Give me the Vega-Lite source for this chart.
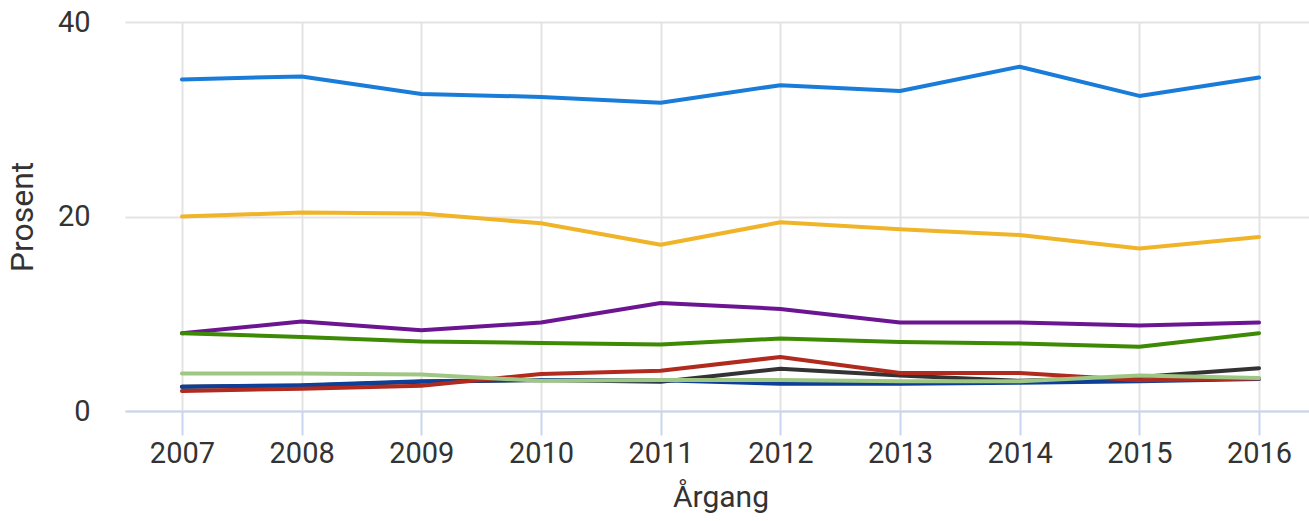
{
  "$schema": "https://vega.github.io/schema/vega-lite/v6.json",
  "autosize": {"type": "none"},
  "padding": {"left": 125, "top": 22, "right": 0, "bottom": 110},
  "width": 1191,
  "height": 389,
  "background": "white",
  "config": {
    "view": {"stroke": null},
    "font": "Roboto",
    "axis": {"labelFont": "Roboto", "titleFont": "Roboto", "labelColor": "#333333", "titleColor": "#333333", "titleFontWeight": "normal"}
  },
  "datasets": {
    "rows": [
      {"serie": "s1", "year": "2007", "value": 34.1},
      {"serie": "s1", "year": "2008", "value": 34.4},
      {"serie": "s1", "year": "2009", "value": 32.6},
      {"serie": "s1", "year": "2010", "value": 32.3},
      {"serie": "s1", "year": "2011", "value": 31.7},
      {"serie": "s1", "year": "2012", "value": 33.5},
      {"serie": "s1", "year": "2013", "value": 32.9},
      {"serie": "s1", "year": "2014", "value": 35.4},
      {"serie": "s1", "year": "2015", "value": 32.4},
      {"serie": "s1", "year": "2016", "value": 34.3},
      {"serie": "s2", "year": "2007", "value": 20.0},
      {"serie": "s2", "year": "2008", "value": 20.4},
      {"serie": "s2", "year": "2009", "value": 20.3},
      {"serie": "s2", "year": "2010", "value": 19.3},
      {"serie": "s2", "year": "2011", "value": 17.1},
      {"serie": "s2", "year": "2012", "value": 19.4},
      {"serie": "s2", "year": "2013", "value": 18.7},
      {"serie": "s2", "year": "2014", "value": 18.1},
      {"serie": "s2", "year": "2015", "value": 16.7},
      {"serie": "s2", "year": "2016", "value": 17.9},
      {"serie": "s3", "year": "2007", "value": 8.0},
      {"serie": "s3", "year": "2008", "value": 9.2},
      {"serie": "s3", "year": "2009", "value": 8.3},
      {"serie": "s3", "year": "2010", "value": 9.1},
      {"serie": "s3", "year": "2011", "value": 11.1},
      {"serie": "s3", "year": "2012", "value": 10.5},
      {"serie": "s3", "year": "2013", "value": 9.1},
      {"serie": "s3", "year": "2014", "value": 9.1},
      {"serie": "s3", "year": "2015", "value": 8.8},
      {"serie": "s3", "year": "2016", "value": 9.1},
      {"serie": "s4", "year": "2007", "value": 8.0},
      {"serie": "s4", "year": "2008", "value": 7.6},
      {"serie": "s4", "year": "2009", "value": 7.15},
      {"serie": "s4", "year": "2010", "value": 7.0},
      {"serie": "s4", "year": "2011", "value": 6.85},
      {"serie": "s4", "year": "2012", "value": 7.45},
      {"serie": "s4", "year": "2013", "value": 7.1},
      {"serie": "s4", "year": "2014", "value": 6.95},
      {"serie": "s4", "year": "2015", "value": 6.6},
      {"serie": "s4", "year": "2016", "value": 8.0},
      {"serie": "s5", "year": "2007", "value": 2.5},
      {"serie": "s5", "year": "2008", "value": 2.6},
      {"serie": "s5", "year": "2009", "value": 3.0},
      {"serie": "s5", "year": "2010", "value": 3.2},
      {"serie": "s5", "year": "2011", "value": 3.0},
      {"serie": "s5", "year": "2012", "value": 4.35},
      {"serie": "s5", "year": "2013", "value": 3.65},
      {"serie": "s5", "year": "2014", "value": 3.1},
      {"serie": "s5", "year": "2015", "value": 3.5},
      {"serie": "s5", "year": "2016", "value": 4.4},
      {"serie": "s6", "year": "2007", "value": 2.5},
      {"serie": "s6", "year": "2008", "value": 2.65},
      {"serie": "s6", "year": "2009", "value": 3.05},
      {"serie": "s6", "year": "2010", "value": 3.2},
      {"serie": "s6", "year": "2011", "value": 3.15},
      {"serie": "s6", "year": "2012", "value": 2.8},
      {"serie": "s6", "year": "2013", "value": 2.8},
      {"serie": "s6", "year": "2014", "value": 2.9},
      {"serie": "s6", "year": "2015", "value": 3.05},
      {"serie": "s6", "year": "2016", "value": 3.3},
      {"serie": "s7", "year": "2007", "value": 2.05},
      {"serie": "s7", "year": "2008", "value": 2.3},
      {"serie": "s7", "year": "2009", "value": 2.6},
      {"serie": "s7", "year": "2010", "value": 3.8},
      {"serie": "s7", "year": "2011", "value": 4.15},
      {"serie": "s7", "year": "2012", "value": 5.55},
      {"serie": "s7", "year": "2013", "value": 3.9},
      {"serie": "s7", "year": "2014", "value": 3.9},
      {"serie": "s7", "year": "2015", "value": 3.15},
      {"serie": "s7", "year": "2016", "value": 3.35},
      {"serie": "s8", "year": "2007", "value": 3.85},
      {"serie": "s8", "year": "2008", "value": 3.85},
      {"serie": "s8", "year": "2009", "value": 3.75},
      {"serie": "s8", "year": "2010", "value": 3.1},
      {"serie": "s8", "year": "2011", "value": 3.2},
      {"serie": "s8", "year": "2012", "value": 3.2},
      {"serie": "s8", "year": "2013", "value": 3.05},
      {"serie": "s8", "year": "2014", "value": 3.05},
      {"serie": "s8", "year": "2015", "value": 3.65},
      {"serie": "s8", "year": "2016", "value": 3.4}
    ]
  },
  "data": {"name": "rows"},
  "mark": {"type": "line", "strokeWidth": 4, "strokeCap": "round", "strokeJoin": "round"},
  "encoding": {
    "x": {
      "field": "year", "type": "ordinal",
      "scale": {"type": "point", "padding": 0.476},
      "axis": {
        "title": "Årgang", "titleFontSize": 30, "titlePadding": 14,
        "labelAngle": 0, "labelFontSize": 29, "labelPadding": 4,
        "domainColor": "#c9d5ee", "domainWidth": 2,
        "tickColor": "#c9d5ee", "tickWidth": 2, "tickSize": 24,
        "grid": true, "gridColor": "#e3e3e3", "gridWidth": 2
      }
    },
    "y": {
      "field": "value", "type": "quantitative",
      "scale": {"domain": [0, 40], "nice": false},
      "axis": {
        "title": "Prosent", "titleFontSize": 32, "titlePadding": 18,
        "values": [0, 20, 40], "labelFontSize": 29, "labelPadding": 35,
        "domain": false, "ticks": false,
        "grid": true, "gridColor": "#e3e3e3", "gridWidth": 2
      }
    },
    "color": {
      "field": "serie", "type": "nominal", "legend": null,
      "scale": {
        "domain": ["s1", "s2", "s3", "s4", "s5", "s6", "s7", "s8"],
        "range": ["#1a7cd9", "#f0b429", "#6c1592", "#3d8a05", "#333333", "#0d3f98", "#b02a1e", "#9fc784"]
      }
    }
  }
}
